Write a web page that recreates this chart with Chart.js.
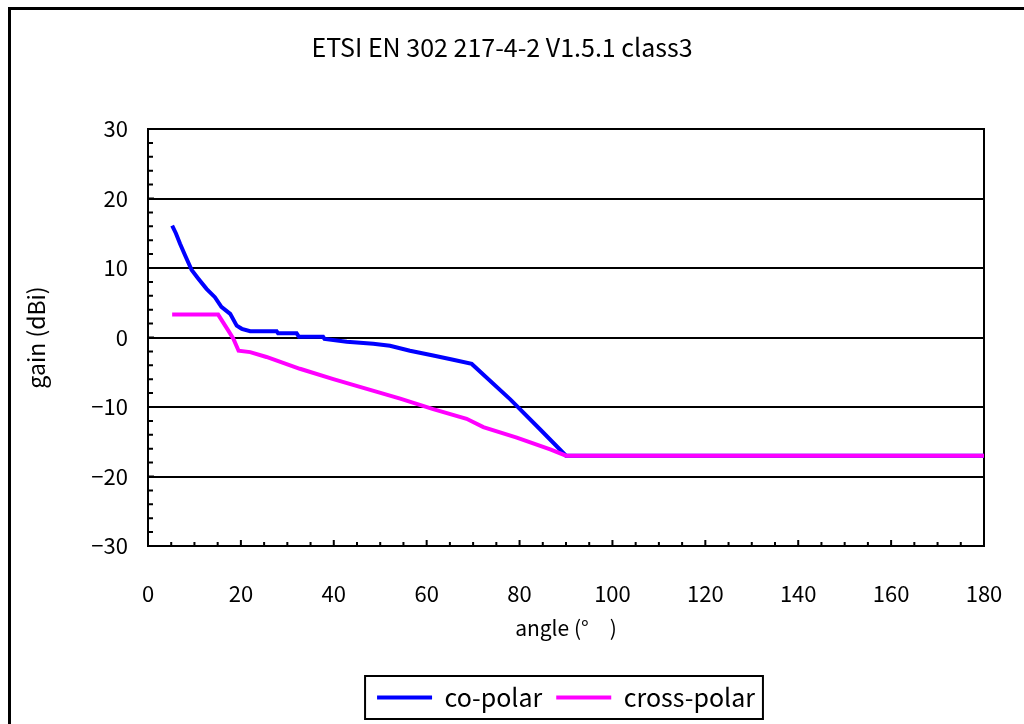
<!DOCTYPE html>
<html>
<head>
<meta charset="utf-8">
<script src="https://cdn.jsdelivr.net/npm/chart.js@4"></script>
<style>
  html, body { margin: 0; padding: 0; background: #fff; overflow: hidden; }
  #wrap { width: 1024px; height: 724px; position: relative; }
</style>
</head>
<body>
<div id="wrap"><canvas id="rpeChart" width="1024" height="724"></canvas></div>
<script>
// co-polar envelope (angle in deg, gain in dBi)
const coAngle = [5.2, 6, 6.9, 8, 9.4, 10.8, 12.6, 14.4, 15.8, 17.7, 19.1, 20.2, 22, 27.7, 28, 32, 32.5, 37.7, 38, 42.8, 48.5, 52.1, 56.4, 61.4, 65.7, 69.7, 78, 84.4, 90, 180];
const coGain  = [16.1, 15, 13.5, 11.8, 9.7, 8.5, 7.0, 5.8, 4.4, 3.4, 1.7, 1.25, 0.9, 0.9, 0.6, 0.6, 0.1, 0.1, -0.2, -0.6, -0.9, -1.2, -1.9, -2.6, -3.2, -3.8, -8.9, -13.2, -17, -17];

// cross-polar envelope
const xpAngle = [5.2, 15.1, 17.3, 18.4, 19.5, 22, 25.5, 32.7, 39.9, 47.1, 54.3, 61.4, 68.6, 72.2, 79.4, 86.6, 90, 180];
const xpGain  = [3.3, 3.3, 1.0, -0.2, -1.9, -2.1, -2.8, -4.5, -6.0, -7.4, -8.8, -10.3, -11.7, -12.9, -14.4, -16.1, -17, -17];

const seriesNames = ['co-polar', 'cross-polar'];
const xTicks = [0, 20, 40, 60, 80, 100, 120, 140, 160, 180];
const yTicks = [-30, -20, -10, 0, 10, 20, 30];

const toPoints = (xs, ys) => xs.map((x, i) => ({ x, y: ys[i] }));
const minus = v => String(v).replace('-', '\u2212');

Chart.defaults.font.family = "'Noto Sans CJK JP', 'Liberation Sans', sans-serif";
Chart.defaults.color = '#000';

// outer frame, plot frame and inward tick marks
const framePlugin = {
    id: 'frame',
    beforeDatasetsDraw(chart) {
        const { ctx, chartArea: a, scales } = chart;
        ctx.save();
        ctx.strokeStyle = '#000';
        ctx.lineWidth = 2;
        ctx.strokeRect(a.left, a.top, a.right - a.left, a.bottom - a.top);

        ctx.beginPath();
        scales.x.ticks.forEach(t => {
            const px = scales.x.getPixelForValue(t.value);
            const len = t.value % 20 === 0 ? 6 : 4;
            ctx.moveTo(px, a.bottom);
            ctx.lineTo(px, a.bottom - len);
        });
        scales.y.ticks.forEach(t => {
            const py = scales.y.getPixelForValue(t.value);
            const len = t.value % 10 === 0 ? 6 : 5;
            ctx.moveTo(a.left, py);
            ctx.lineTo(a.left + len, py);
        });
        ctx.stroke();
        ctx.restore();
    },
    afterDraw(chart) {
        const { ctx } = chart;
        ctx.save();
        ctx.strokeStyle = '#000';
        ctx.lineWidth = 3;
        ctx.strokeRect(9.5, 8.5, 3000, 3000);

        // box round the legend
        const boxes = chart.legend.legendHitBoxes;
        if (boxes && boxes.length) {
            const left = Math.min(...boxes.map(b => b.left)) - 12;
            const right = Math.max(...boxes.map(b => b.left + b.width)) + 8;
            const top = Math.min(...boxes.map(b => b.top)) - 9;
            const bottom = Math.max(...boxes.map(b => b.top + b.height)) + 9;
            ctx.lineWidth = 2;
            ctx.strokeRect(left, top, right - left, bottom - top);
        }
        ctx.restore();
    }
};

const ctx = document.getElementById('rpeChart').getContext('2d');
const rpeChart = new Chart(ctx, {
    type: 'line',
    data: {
        datasets: [
            {
                label: seriesNames[0],
                data: toPoints(coAngle, coGain),
                borderColor: '#0000ff',
                backgroundColor: '#0000ff',
                borderWidth: 4,
                pointRadius: 0,
                tension: 0,
                order: 1
            },
            {
                label: seriesNames[1],
                data: toPoints(xpAngle, xpGain),
                borderColor: '#ff00ff',
                backgroundColor: '#ff00ff',
                borderWidth: 4,
                pointRadius: 0,
                tension: 0,
                order: 0
            }
        ]
    },
    options: {
        responsive: false,
        devicePixelRatio: 1,
        animation: false,
        layout: { padding: { left: 20, right: 40, top: 0, bottom: 4 } },
        plugins: {
            title: {
                display: true,
                text: 'ETSI EN 302 217-4-2 V1.5.1 class3',
                font: { size: 25, weight: 'normal' },
                padding: { top: 32, bottom: 67 }
            },
            legend: {
                position: 'bottom',
                fullSize: false,
                labels: {
                    boxWidth: 55,
                    boxHeight: 4,
                    padding: 14,
                    font: { size: 25 },
                    sort: (a, b) => a.datasetIndex - b.datasetIndex,
                    generateLabels(chart) {
                        return Chart.defaults.plugins.legend.labels.generateLabels(chart)
                            .map(item => ({ ...item, lineWidth: 0 }));
                    }
                }
            },
            tooltip: { enabled: false }
        },
        scales: {
            x: {
                type: 'linear',
                min: 0,
                max: 180,
                afterFit: s => { s.height = 125; s.paddingRight = 20; s.paddingLeft = 10; },
                grid: { display: false },
                border: { display: true, color: '#000', width: 2 },
                ticks: {
                    stepSize: 5,
                    autoSkip: false,
                    maxRotation: 0,
                    padding: 26,
                    font: { size: 22 },
                    callback: v => (xTicks.includes(v) ? v : '')
                },
                title: {
                    display: true,
                    text: 'angle (°\u3000)',
                    font: { size: 21 },
                    padding: { top: 4, bottom: 30 }
                }
            },
            y: {
                min: -30,
                max: 30,
                afterFit: s => { s.width = 128; },
                grid: {
                    color: c => (c.tick && c.tick.value % 10 === 0 ? '#000' : 'rgba(0,0,0,0)'),
                    lineWidth: 2,
                    drawTicks: false
                },
                border: { display: true, color: '#000', width: 2 },
                ticks: {
                    stepSize: 2,
                    autoSkip: false,
                    padding: 20,
                    font: { size: 22 },
                    callback: v => (yTicks.includes(v) ? minus(v) : '')
                },
                title: {
                    display: true,
                    text: 'gain (dBi)',
                    font: { size: 23 },
                    padding: { top: 2, bottom: 4 }
                }
            }
        }
    },
    plugins: [framePlugin]
});
</script>
</body>
</html>
